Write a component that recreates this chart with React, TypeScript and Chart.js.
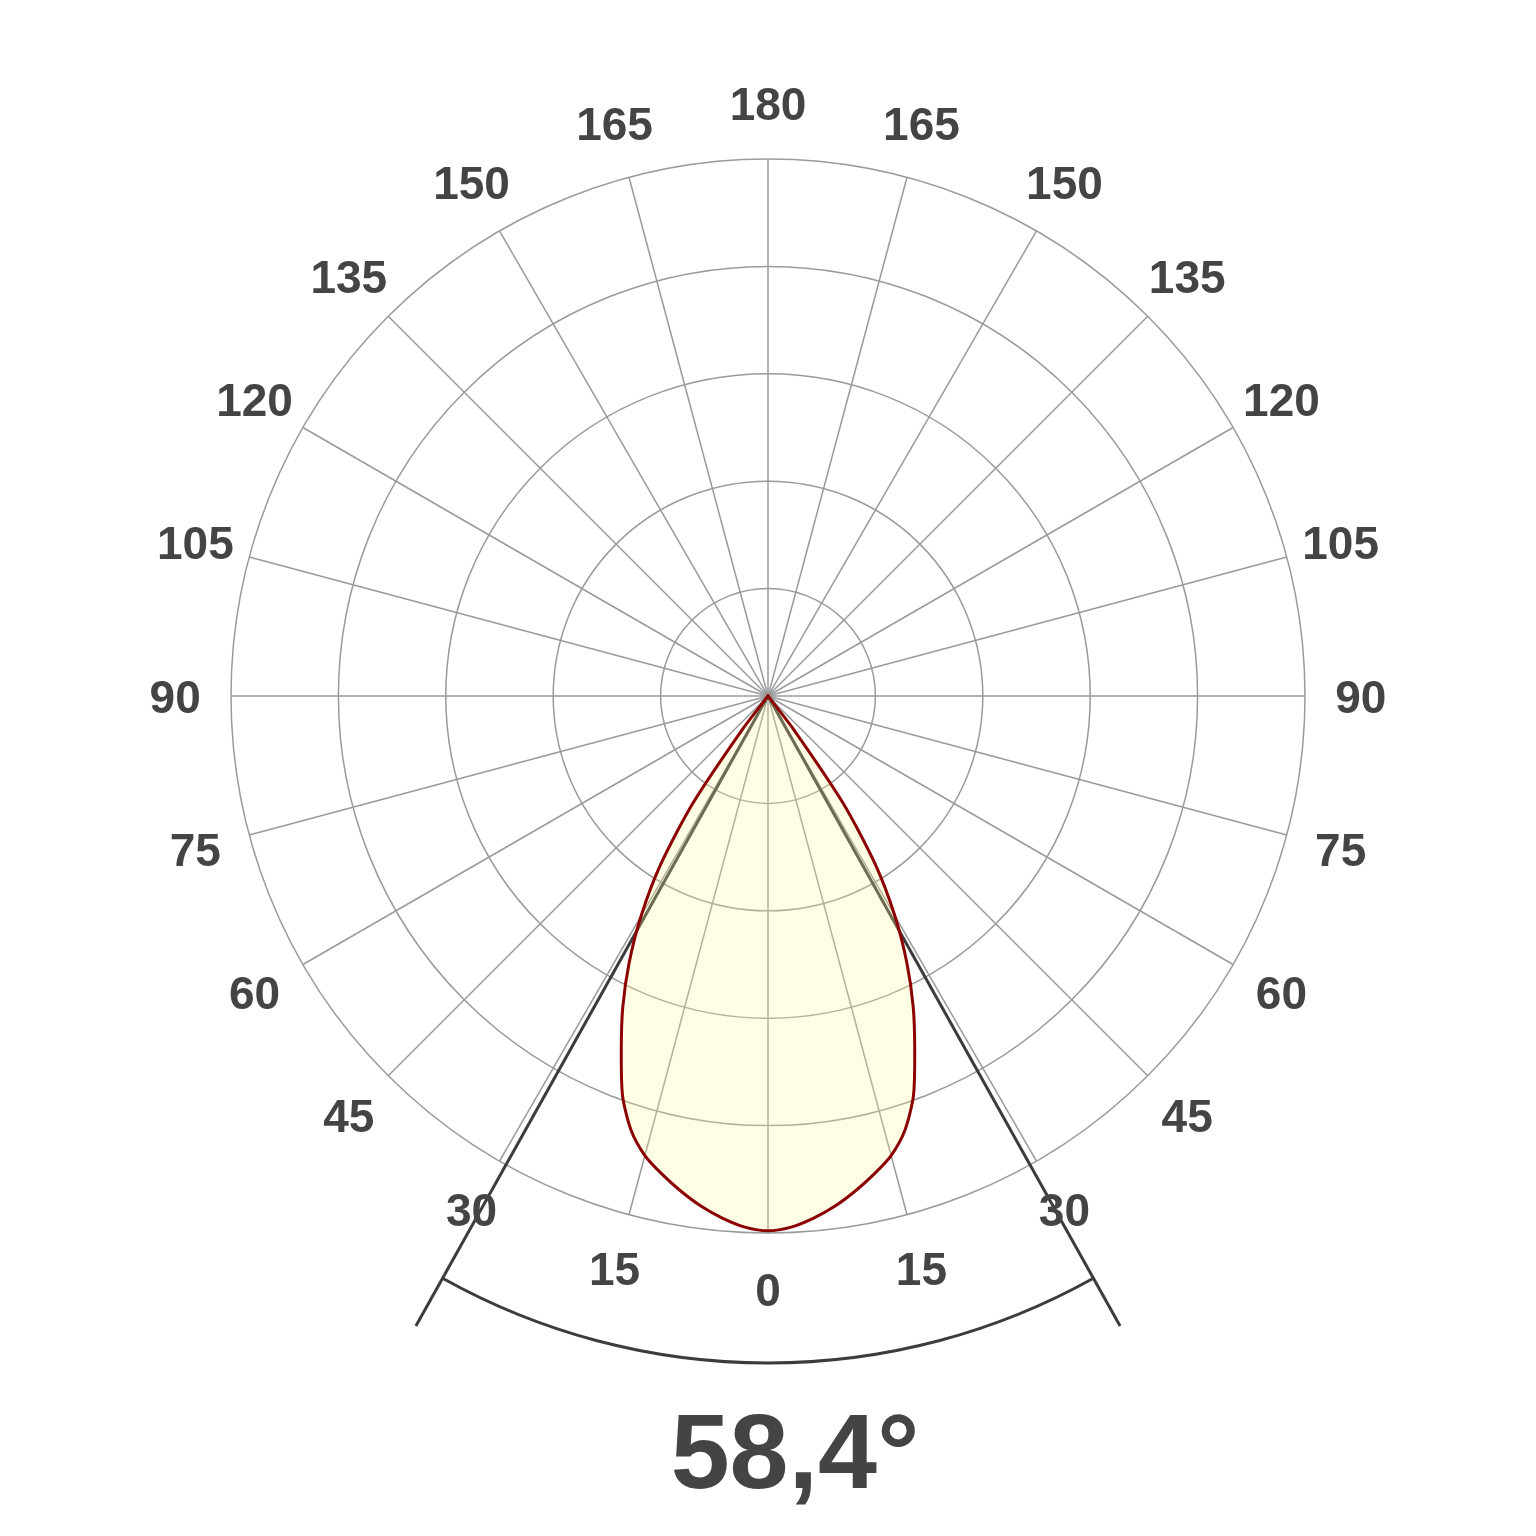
import React, { useEffect, useRef } from "react";
import { Chart, registerables } from "chart.js";

Chart.register(...registerables);

// Polar grid: angle step of the data (degrees) and rings (relative units)
const ANGLE_STEP = 2.5;
const RING_MAX = 5;

// Luminous intensity (relative, outer ring = 5) at gamma = 0, 2.5, 5, ... 180 degrees
const intensity = [
  4.98, 4.95, 4.88, 4.79, 4.68, 4.56, 4.43, 4.24, 3.96, 3.57, 3.2, 2.8, 2.36,
  1.86, 1.22, 0.38, 0, 0, 0, 0, 0, 0, 0, 0, 0, 0,
  0, 0, 0, 0, 0, 0, 0, 0, 0, 0, 0, 0, 0, 0, 0, 0, 0, 0, 0, 0, 0, 0, 0, 0,
  0, 0, 0, 0, 0, 0, 0, 0, 0, 0, 0, 0, 0, 0, 0, 0, 0, 0, 0, 0, 0, 0, 0,
];

// Angle tick labels (every 15 degrees)
const tickAngles = [0, 15, 30, 45, 60, 75, 90, 105, 120, 135, 150, 165, 180];
const tickLabels = ["0", "15", "30", "45", "60", "75", "90", "105", "120", "135", "150", "165", "180"];

// Beam angle
const beamAngle = 58.4;
const beamText = "58,4°";

const TEXT_COLOR = "#444444";
const GRID_COLOR = "#9a9a9a";
const BEAM_COLOR = "#3c3c3c";

export default function App() {
  const canvasRef = useRef<HTMLCanvasElement | null>(null);

  useEffect(() => {
    const canvas = canvasRef.current;
    if (!canvas) return;

    const count = Math.round(360 / ANGLE_STEP);
    const labels: string[] = [];
    const values: number[] = [];
    for (let i = 0; i < count; i++) {
      const phi = i * ANGLE_STEP;
      const gamma = phi <= 180 ? 180 - phi : phi - 180;
      labels.push(String(gamma));
      values.push(intensity[Math.round(gamma / ANGLE_STEP)]);
    }
    const spokeEvery = Math.round(15 / ANGLE_STEP);

    const overlay = {
      id: "overlay",
      beforeDatasetsDraw(chart: any) {
        const scale = chart.scales.r;
        const ctx = chart.ctx;
        const unit = scale.drawingArea / RING_MAX;
        const half = beamAngle / 2;
        const idxRight = (180 - half) / ANGLE_STEP;
        const idxLeft = (180 + half) / ANGLE_STEP;
        const lineLen = 6.72 * unit;
        const arcR = 6.21 * unit;
        ctx.save();
        ctx.strokeStyle = BEAM_COLOR;
        ctx.lineWidth = 3;
        ctx.lineCap = "butt";
        for (const idx of [idxRight, idxLeft]) {
          const p = scale.getPointPosition(idx, lineLen);
          ctx.beginPath();
          ctx.moveTo(scale.xCenter, scale.yCenter);
          ctx.lineTo(p.x, p.y);
          ctx.stroke();
        }
        const aR = scale.getIndexAngle(idxRight) - Math.PI / 2;
        const aL = scale.getIndexAngle(idxLeft) - Math.PI / 2;
        ctx.beginPath();
        ctx.arc(scale.xCenter, scale.yCenter, arcR, aR, aL, false);
        ctx.stroke();
        ctx.restore();
      },
      afterDraw(chart: any) {
        const scale = chart.scales.r;
        const ctx = chart.ctx;
        const labelDist = scale.getDistanceFromCenterForValue(5.52);
        ctx.save();
        ctx.fillStyle = TEXT_COLOR;
        ctx.font = "bold 46px 'Liberation Sans', Arial, sans-serif";
        ctx.textAlign = "center";
        ctx.textBaseline = "middle";
        tickAngles.forEach((g, k) => {
          const sides = g === 0 || g === 180 ? [180 - g] : [180 - g, 180 + g];
          for (const phi of sides) {
            const p = scale.getPointPosition(phi / ANGLE_STEP, labelDist);
            ctx.fillText(tickLabels[k], p.x, p.y + 4);
          }
        });
        ctx.font = "bold 106px 'Liberation Sans', Arial, sans-serif";
        ctx.textBaseline = "alphabetic";
        ctx.fillText(beamText, scale.xCenter + 27, 1488);
        ctx.restore();
      },
    };

    const chart = new Chart(canvas, {
      type: "radar",
      data: {
        labels,
        datasets: [
          {
            data: values,
            borderColor: "#8b0000",
            borderWidth: 3,
            backgroundColor: "rgba(255, 250, 150, 0.25)",
            fill: true,
            pointRadius: 0,
            pointHoverRadius: 0,
            tension: 0.25,
          },
        ],
      },
      options: {
        responsive: false,
        animation: false,
        layout: { padding: { left: 231, right: 231, top: 159, bottom: 303 } },
        plugins: { legend: { display: false }, tooltip: { enabled: false } },
        scales: {
          r: {
            min: 0,
            max: RING_MAX,
            ticks: { display: false, stepSize: 1 },
            pointLabels: { display: false },
            grid: { circular: true, color: GRID_COLOR, lineWidth: 1.5 },
            angleLines: {
              display: true,
              color: GRID_COLOR,
              lineWidth: (c: any) => (c.index % spokeEvery === 0 ? 1.5 : 0),
            },
          },
        },
      },
      plugins: [overlay],
    });

    return () => chart.destroy();
  }, []);

  return (
    <canvas
      ref={canvasRef}
      width={1536}
      height={1536}
      style={{ position: "absolute", left: 0, top: 0, width: 1536, height: 1536 }}
    />
  );
}
